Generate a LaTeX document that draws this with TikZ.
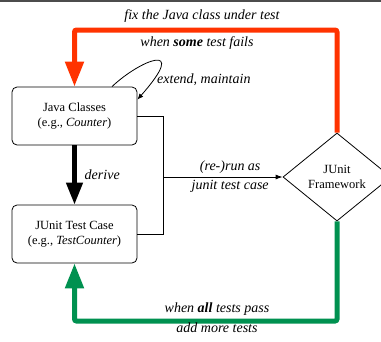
\documentclass[tikz,border=0pt]{standalone}
\usepackage{fontspec}
\setmainfont{Liberation Serif}
\usetikzlibrary{shapes.geometric,arrows.meta,calc}
\definecolor{failred}{RGB}{255,51,0}
\definecolor{passgreen}{RGB}{0,145,80}
\begin{document}
\begin{tikzpicture}[x=1pt,y=-1pt,
  box/.style={draw,rounded corners=5pt,line width=0.8pt,minimum width=125pt,minimum height=58pt,align=center,font=\fontsize{12.5}{15}\selectfont,inner sep=0pt},
  decision/.style={draw,diamond,line width=0.8pt,minimum width=108pt,minimum height=88pt,inner sep=0pt,align=center,font=\fontsize{12.5}{15}\selectfont},
  lbl/.style={font=\fontsize{14}{16}\selectfont\itshape,inner sep=0pt},
  thin/.style={line width=0.8pt},
  bigred/.style={draw=failred,line width=5pt,rounded corners=2pt,-{Triangle[length=25pt,width=18pt]}},
  biggreen/.style={draw=passgreen,line width=5pt,rounded corners=2pt,-{Triangle[length=25pt,width=18pt]}}]
\useasboundingbox (0,0) rectangle (381,341);
\draw[line width=1.5pt,gray!60!black] (0,0.75) -- (381,0.75);
\node[box] (jc) at (74.5,116) {Java Classes\\(e.g., \textit{Counter})};
\node[box] (jt) at (74.5,234) {JUnit Test Case\\(e.g., \textit{TestCounter})};
\node[decision] (fw) at (337,177) {JUnit\\Framework};
% derive
\draw[line width=4.5pt,-{Triangle[length=22pt,width=16pt]}] (jc) -- (jt)
  node[lbl,midway,right=8pt] (dl) {derive};
% self loop
\draw[thin,-{Latex[length=6pt,width=5pt]}] ($(jc.north)+(37.5,0)$) .. controls (140,60) and (190,40) .. ($(jc.north east)+(0,13)$);
\node[lbl,anchor=west] (em) at (157,80) {extend, maintain};
% bracket and run arrow
\draw[thin] (jc.east) -- ++(26,0) |- (jt.east);
\coordinate (mid) at (163.5,177);
\draw[thin,-{Latex[length=7pt,width=5pt]}] (mid) -- (fw.west)
  node[lbl,pos=0.56,above=3pt] (r1) {(re-)run as}
  node[lbl,pos=0.56,below=3pt] (r2) {junit test case};
% red fail loop
\coordinate (rtop) at (200,30);
\draw[bigred] (fw.north) |- (rtop) -| (jc.north);
\node[lbl] (f1) at (202,16) {fix the Java class under test};
\node[lbl] (f2) at (197,43) {when \textbf{some} test fails};
% green pass loop
\coordinate (gbot) at (200,321);
\draw[biggreen] (fw.south) |- (gbot) -| (jt.south);
\node[lbl] (g1) at (217,309) {when \textbf{all} tests pass};
\node[lbl] (g2) at (217,328) {add more tests};
\end{tikzpicture}
\end{document}
